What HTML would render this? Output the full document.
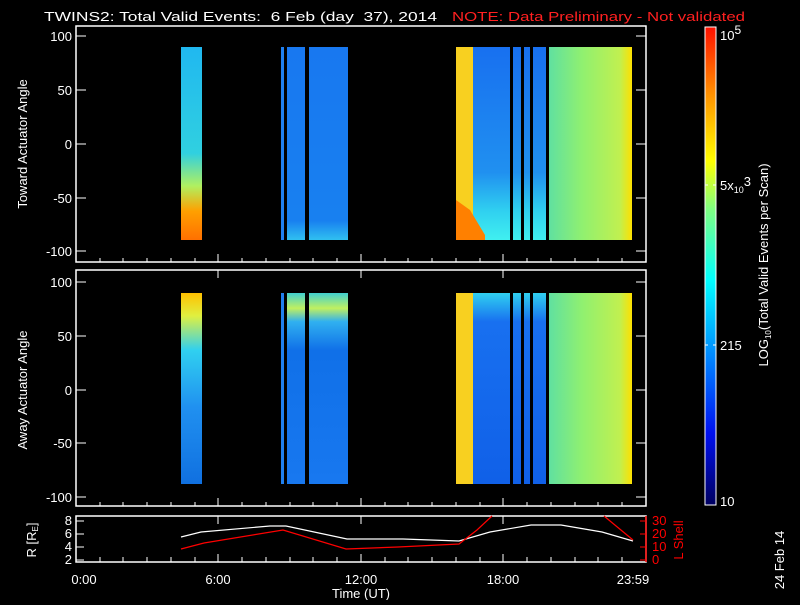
<!DOCTYPE html>
<html><head><style>
body{margin:0;background:#000;width:800px;height:600px;overflow:hidden}
svg text{font-family:"Liberation Sans",sans-serif;fill:#fff;font-size:13px}
</style></head><body>
<svg width="800" height="600" xmlns="http://www.w3.org/2000/svg">
<defs>
<linearGradient id="cb" x1="0" y1="1" x2="0" y2="0">
<stop offset="0" stop-color="#000060"/><stop offset="0.15" stop-color="#0010f0"/><stop offset="0.3" stop-color="#0080ff"/><stop offset="0.47" stop-color="#00ffff"/><stop offset="0.62" stop-color="#80ff80"/><stop offset="0.72" stop-color="#ffff00"/><stop offset="0.86" stop-color="#ff9000"/><stop offset="1" stop-color="#ff1000"/></linearGradient>
<linearGradient id="a1" x1="0" y1="0" x2="0" y2="1"><stop offset="0" stop-color="#20b8f0"/><stop offset="0.55" stop-color="#30d0e0"/><stop offset="0.72" stop-color="#b0f060"/><stop offset="0.85" stop-color="#ffa000"/><stop offset="1" stop-color="#ff7000"/></linearGradient>
<linearGradient id="a2" x1="0" y1="0" x2="0" y2="1"><stop offset="0" stop-color="#ffc000"/><stop offset="0.12" stop-color="#e0f040"/><stop offset="0.3" stop-color="#30d0f0"/><stop offset="0.6" stop-color="#2090f0"/><stop offset="1" stop-color="#1070e0"/></linearGradient>
<linearGradient id="b1" x1="0" y1="0" x2="0" y2="1"><stop offset="0" stop-color="#1878f0"/><stop offset="0.9" stop-color="#1880f0"/><stop offset="1" stop-color="#30c0f0"/></linearGradient>
<linearGradient id="b2" x1="0" y1="0" x2="0" y2="1"><stop offset="0" stop-color="#40d0d0"/><stop offset="0.08" stop-color="#c0f060"/><stop offset="0.15" stop-color="#30b0f0"/><stop offset="0.3" stop-color="#1070e8"/><stop offset="1" stop-color="#1878f0"/></linearGradient>
<linearGradient id="cR" x1="0" y1="0" x2="1" y2="0"><stop offset="0" stop-color="#60e0a0"/><stop offset="0.4" stop-color="#90f070"/><stop offset="0.85" stop-color="#c0f050"/><stop offset="1" stop-color="#ffe000"/></linearGradient>
<linearGradient id="cL1" x1="0" y1="0" x2="0" y2="1"><stop offset="0" stop-color="#1870f0"/><stop offset="0.65" stop-color="#2090f0"/><stop offset="0.85" stop-color="#30d0f0"/><stop offset="1" stop-color="#40f0f0"/></linearGradient>
<linearGradient id="cL2" x1="0" y1="0" x2="0" y2="1"><stop offset="0" stop-color="#30d0f0"/><stop offset="0.15" stop-color="#1870f0"/><stop offset="1" stop-color="#1060e8"/></linearGradient>
</defs>
<text x="44" y="21" font-size="14" textLength="393" lengthAdjust="spacingAndGlyphs" xml:space="preserve">TWINS2: Total Valid Events:  6 Feb (day  37), 2014</text>
<text x="452" y="21" font-size="14" textLength="293" lengthAdjust="spacingAndGlyphs" style="fill:#ff2020">NOTE: Data Preliminary - Not validated</text>
<rect x="181" y="47" width="21" height="193" fill="url(#a1)"/>
<rect x="281" y="47" width="3" height="193" fill="#2080f0"/>
<rect x="287" y="47" width="18" height="193" fill="url(#b1)"/>
<rect x="309" y="47" width="39" height="193" fill="url(#b1)"/>
<rect x="456" y="47" width="17" height="193" fill="#f8d020"/>
<rect x="473" y="47" width="76" height="193" fill="url(#cL1)"/>
<path d="M456 200 L470 210 L485 235 L485 240 L456 240Z" fill="#ff8000"/>
<rect x="549" y="47" width="83" height="193" fill="url(#cR)"/>
<rect x="510" y="47" width="3" height="193" fill="#000"/><rect x="521" y="47" width="3" height="193" fill="#000"/><rect x="530" y="47" width="3" height="193" fill="#000"/><rect x="546" y="47" width="3" height="193" fill="#000"/>
<rect x="181" y="293" width="21" height="191" fill="url(#a2)"/>
<rect x="281" y="293" width="3" height="191" fill="#2080f0"/>
<rect x="287" y="293" width="18" height="191" fill="url(#b2)"/>
<rect x="309" y="293" width="39" height="191" fill="url(#b2)"/>
<rect x="456" y="293" width="17" height="191" fill="#f8d020"/>
<rect x="473" y="293" width="76" height="191" fill="url(#cL2)"/>
<rect x="549" y="293" width="83" height="191" fill="url(#cR)"/>
<rect x="510" y="293" width="3" height="191" fill="#000"/><rect x="521" y="293" width="3" height="191" fill="#000"/><rect x="530" y="293" width="3" height="191" fill="#000"/><rect x="546" y="293" width="3" height="191" fill="#000"/>
<g fill="none" stroke="#fff" stroke-width="1.5">
<rect x="76" y="26" width="570" height="236"/>
<rect x="76" y="270" width="570" height="236"/>
<rect x="76" y="516" width="570" height="46"/>
</g>
<g stroke="#fff" stroke-width="1">
<path d="M76 36h10M76 90h10M76 144h10M76 198h10M76 251h10M646 36h-10M646 90h-10M646 144h-10M646 198h-10M646 251h-10"/>
<path d="M76 282h10M76 336h10M76 390h10M76 443h10M76 497h10M646 282h-10M646 336h-10M646 390h-10M646 443h-10M646 497h-10"/>
<path d="M218 262v-8M361 262v-8M503 262v-8M218 270v8M361 270v8M503 270v8M218 506v-8M361 506v-8M503 506v-8M218 516v8M361 516v8M503 516v8M218 562v-8M361 562v-8M503 562v-8"/>
<path d="M100 262v-4M123 262v-4M147 262v-4M171 262v-4M195 262v-4M242 262v-4M266 262v-4M290 262v-4M313 262v-4M337 262v-4M385 262v-4M408 262v-4M432 262v-4M456 262v-4M480 262v-4M527 262v-4M551 262v-4M575 262v-4M598 262v-4M622 262v-4"/>
<path d="M100 506v-4M123 506v-4M147 506v-4M171 506v-4M195 506v-4M242 506v-4M266 506v-4M290 506v-4M313 506v-4M337 506v-4M385 506v-4M408 506v-4M432 506v-4M456 506v-4M480 506v-4M527 506v-4M551 506v-4M575 506v-4M598 506v-4M622 506v-4"/>
<path d="M100 562v-5M123 562v-5M147 562v-5M171 562v-5M195 562v-5M242 562v-5M266 562v-5M290 562v-5M313 562v-5M337 562v-5M385 562v-5M408 562v-5M432 562v-5M456 562v-5M480 562v-5M527 562v-5M551 562v-5M575 562v-5M598 562v-5M622 562v-5"/>
<path d="M76 521h8M76 534h8M76 547h8M76 560h8"/>
</g>
<g font-size="13" text-anchor="end">
<text x="72" y="41">100</text><text x="72" y="95">50</text><text x="72" y="149">0</text><text x="72" y="203">-50</text><text x="72" y="256">-100</text>
<text x="72" y="287">100</text><text x="72" y="341">50</text><text x="72" y="395">0</text><text x="72" y="448">-50</text><text x="72" y="502">-100</text>
<text x="72" y="525">8</text><text x="72" y="538">6</text><text x="72" y="551">4</text><text x="72" y="564">2</text>
</g>
<text transform="translate(27,144) rotate(-90)" text-anchor="middle">Toward Actuator Angle</text>
<text transform="translate(27,390) rotate(-90)" text-anchor="middle">Away Actuator Angle</text>
<text transform="translate(36,540) rotate(-90)" text-anchor="middle" font-size="12">R [R<tspan font-size="8" dy="2">E</tspan><tspan dy="-2">]</tspan></text>
<line x1="646" y1="516" x2="646" y2="562" stroke="#f00" stroke-width="1.5"/>
<path d="M646 521h-6M646 534h-6M646 547h-6M646 560h-6" stroke="#f00"/>
<g font-size="13"><text x="652" y="525" style="fill:#f00">30</text><text x="652" y="538" style="fill:#f00">20</text><text x="652" y="551" style="fill:#f00">10</text><text x="652" y="564" style="fill:#f00">0</text></g>
<text transform="translate(683,540) rotate(-90)" text-anchor="middle" style="fill:#f00" font-size="13">L Shell</text>
<polyline fill="none" stroke="#fff" stroke-width="1.2" points="181,537 201,532 270,526 286,526 347,539 403,539 459,541 490,532 531,525 561,525 602,532 633,541"/>
<polyline fill="none" stroke="#f00" stroke-width="1.2" points="181,549 204,543 283,530 346,549 398,547 459,544 477,530 492,516"/>
<polyline fill="none" stroke="#f00" stroke-width="1.2" points="604,516 633,540"/>
<g text-anchor="middle"><text x="84" y="584">0:00</text><text x="218" y="584">6:00</text><text x="361" y="584">12:00</text><text x="503" y="584">18:00</text><text x="633" y="584">23:59</text><text x="361" y="598">Time (UT)</text></g>
<rect x="705" y="27" width="11" height="478" fill="url(#cb)" stroke="#fff" stroke-width="1"/>
<path d="M705 185h3M713 185h3M705 345h3M713 345h3" stroke="#fff"/>
<text x="720" y="40" font-size="10">10<tspan dy="-6" font-size="12">5</tspan></text>
<text x="720" y="190" font-size="12">5x<tspan font-size="9" dy="3">10</tspan><tspan dy="-7">3</tspan></text>
<text x="720" y="350">215</text>
<text x="720" y="506">10</text>
<text transform="translate(768,265) rotate(-90)" text-anchor="middle" font-size="12">LOG<tspan font-size="8" dy="3">10</tspan><tspan dy="-3">(Total Valid Events per Scan)</tspan></text>
<text transform="translate(784,560) rotate(-90)" text-anchor="middle" font-size="10">24 Feb 14</text>
</svg>
</body></html>
